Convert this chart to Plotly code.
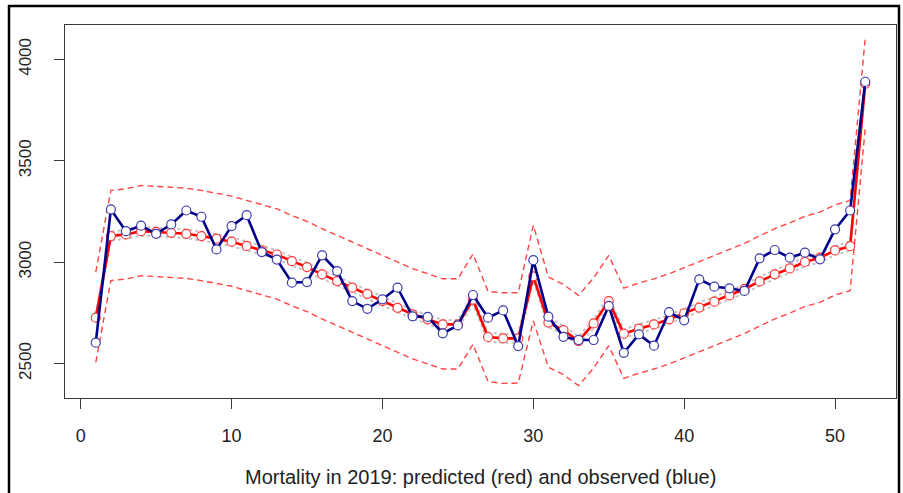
import plotly.graph_objects as go

weeks = list(range(1, 53))

observed = [2603, 3260, 3153, 3180, 3140, 3186, 3255, 3224, 3063, 3178, 3232, 3050, 3013,
            2899, 2902, 3034, 2956, 2808, 2770, 2817, 2874, 2733, 2730, 2649, 2688, 2838,
            2726, 2762, 2586, 3010, 2731, 2632, 2616, 2616, 2784, 2553, 2644, 2588, 2754,
            2713, 2915, 2879, 2871, 2858, 3019, 3060, 3022, 3047, 3014, 3162, 3255, 3890]

predicted = [2726, 3129, 3137, 3153, 3149, 3145, 3140, 3129, 3116, 3101, 3080, 3058, 3038,
             3005, 2976, 2940, 2907, 2874, 2844, 2808, 2775, 2743, 2718, 2693, 2693, 2815,
             2631, 2624, 2624, 2930, 2702, 2665, 2611, 2698, 2808, 2647, 2672, 2693, 2718,
             2748, 2776, 2805, 2836, 2868, 2905, 2940, 2969, 3001, 3022, 3058, 3079, 3880]

upper_pi = [2951, 3354, 3362, 3378, 3374, 3370, 3365, 3354, 3341, 3326, 3305, 3283, 3263,
            3230, 3201, 3165, 3132, 3099, 3069, 3033, 3000, 2968, 2943, 2918, 2918, 3040,
            2856, 2849, 2849, 3182, 2927, 2890, 2836, 2923, 3033, 2872, 2897, 2918, 2943,
            2973, 3001, 3030, 3061, 3093, 3130, 3165, 3194, 3226, 3247, 3283, 3304, 4105]

lower_pi = [2506, 2909, 2917, 2933, 2929, 2925, 2920, 2909, 2896, 2881, 2860, 2838, 2818,
            2785, 2756, 2720, 2687, 2654, 2624, 2588, 2555, 2523, 2498, 2473, 2473, 2595,
            2411, 2402, 2404, 2710, 2482, 2445, 2391, 2478, 2588, 2427, 2452, 2473, 2498,
            2528, 2556, 2585, 2616, 2648, 2685, 2720, 2749, 2781, 2802, 2838, 2859, 3660]

upper_ci = [2748, 3151, 3159, 3175, 3171, 3167, 3162, 3151, 3138, 3123, 3102, 3080, 3060,
            3027, 2998, 2962, 2929, 2896, 2866, 2830, 2797, 2765, 2740, 2715, 2715, 2837,
            2653, 2646, 2646, 2952, 2724, 2687, 2633, 2720, 2830, 2669, 2694, 2715, 2740,
            2770, 2798, 2827, 2858, 2890, 2927, 2962, 2991, 3023, 3044, 3080, 3101, 3902]

lower_ci = [2704, 3107, 3115, 3131, 3127, 3123, 3118, 3107, 3094, 3079, 3058, 3036, 3016,
            2983, 2954, 2918, 2885, 2852, 2822, 2786, 2753, 2721, 2696, 2671, 2671, 2793,
            2609, 2602, 2602, 2908, 2680, 2643, 2589, 2676, 2786, 2625, 2650, 2671, 2696,
            2726, 2754, 2783, 2814, 2846, 2883, 2918, 2947, 2979, 3000, 3036, 3057, 3858]

x_ticks = [0, 10, 20, 30, 40, 50]
y_ticks = [2500, 3000, 3500, 4000]
title_text = "Mortality in 2019: predicted (red) and observed (blue)"

FONT = "Liberation Sans, Arial, sans-serif"

fig = go.Figure()

for ci in (upper_ci, lower_ci):
    fig.add_trace(go.Scatter(x=weeks, y=ci, mode="lines",
                             line=dict(color="#c4c4c4", width=2, dash="dot"),
                             hoverinfo="skip"))

for pi in (upper_pi, lower_pi):
    fig.add_trace(go.Scatter(x=weeks, y=pi, mode="lines",
                             line=dict(color="#ff4444", width=1.4, dash="6px,4px"),
                             hoverinfo="skip"))

fig.add_trace(go.Scatter(x=weeks, y=predicted, mode="lines+markers",
                         line=dict(color="#ff0000", width=2.6),
                         marker=dict(symbol="circle", size=9, color="white",
                                     line=dict(color="#ff3a3a", width=1.2))))

fig.add_trace(go.Scatter(x=weeks, y=observed, mode="lines+markers",
                         line=dict(color="#00008b", width=2.6),
                         marker=dict(symbol="circle", size=9, color="white",
                                     line=dict(color="#3b3bab", width=1.2))))

L, R, T, B = 65, 7, 25, 95
W, H = 903, 493
pw, ph = W - L - R, H - T - B

def px_x(p):
    return (p - L) / pw

def px_y(p):
    return (H - B - p) / ph

fig.update_layout(
    width=W, height=H,
    margin=dict(l=L, r=R, t=T, b=B),
    paper_bgcolor="white", plot_bgcolor="white",
    showlegend=False,
    font=dict(family=FONT, color="#222222"),
    xaxis=dict(range=[-1.04, 54.04], tickvals=x_ticks, ticktext=[str(v) for v in x_ticks],
               showgrid=False, zeroline=False, showline=True, mirror=True,
               linecolor="#3a3a3a", linewidth=1, ticks="outside", ticklen=10,
               tickcolor="#3a3a3a", tickwidth=1, tickfont=dict(size=18, family=FONT, color="#222"),
               ticklabelstandoff=11),
    yaxis=dict(range=[2330, 4170], tickvals=y_ticks, ticktext=[str(v) for v in y_ticks],
               showgrid=False, zeroline=False, showline=True, mirror=True,
               linecolor="#3a3a3a", linewidth=1, ticks="outside", ticklen=10,
               tickcolor="#3a3a3a", tickwidth=1, tickangle=-90,
               tickfont=dict(size=17, family=FONT, color="#222"),
               ticklabelstandoff=16),
    annotations=[dict(text=title_text, xref="paper", yref="paper",
                      x=0.5, y=px_y(477), xanchor="center", yanchor="middle",
                      showarrow=False, font=dict(size=20, family=FONT, color="#222"))],
    shapes=[dict(type="rect", xref="paper", yref="paper",
                 x0=px_x(9), x1=px_x(899), y0=px_y(520), y1=px_y(6),
                 line=dict(color="black", width=2.5), fillcolor="rgba(0,0,0,0)",
                 layer="above")],
)

fig.write_html("out.html")
